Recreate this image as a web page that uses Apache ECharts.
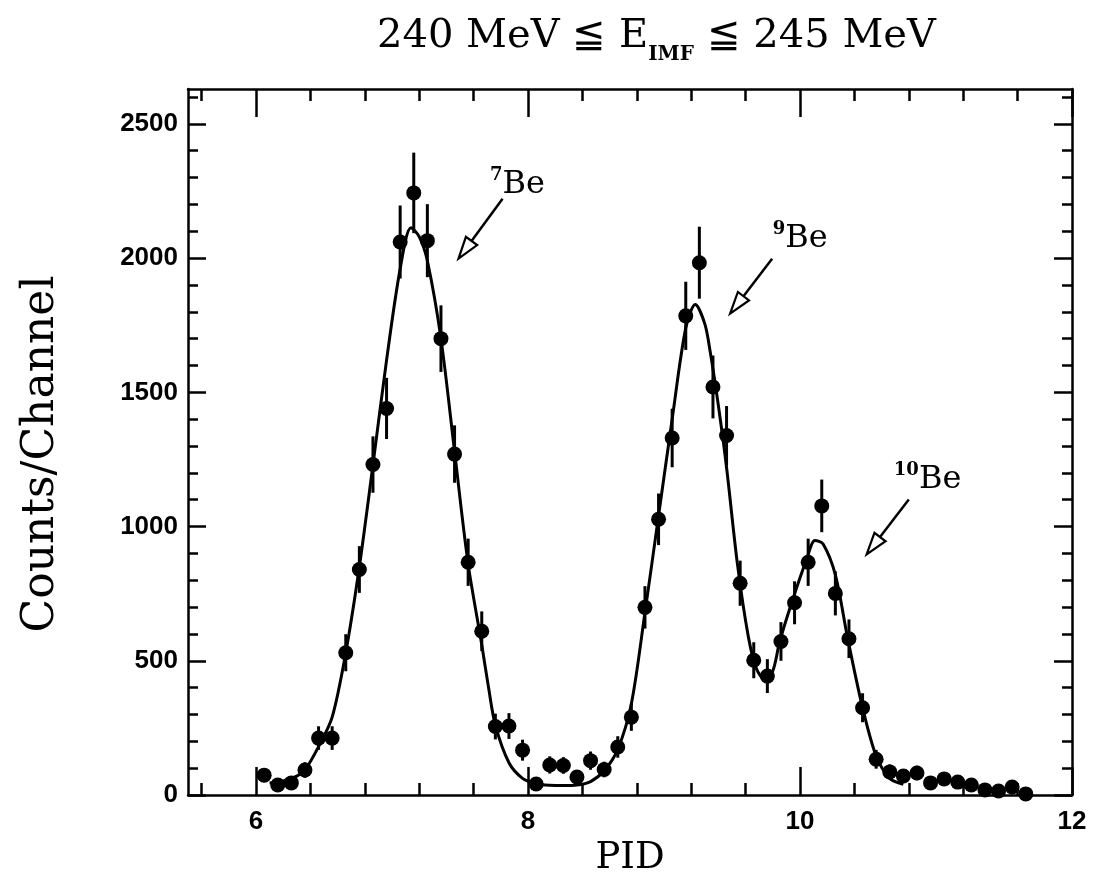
<!DOCTYPE html>
<html>
<head>
<meta charset="utf-8">
<script src="https://cdn.jsdelivr.net/npm/echarts@6/dist/echarts.min.js"></script>
<style>
html,body{margin:0;padding:0;background:#fff;}
#c{width:1097px;height:889px;}
</style>
</head>
<body>
<div id="c"></div>
<script>
// ---- data ----
const pid = [6.06,6.16,6.26,6.36,6.46,6.56,6.66,6.76,6.86,6.96,7.06,7.16,7.26,7.36,7.46,7.56,7.66,7.76,7.86,7.96,
  8.06,8.16,8.26,8.36,8.46,8.56,8.66,8.76,8.86,8.96,9.06,9.16,9.26,9.36,9.46,9.56,9.66,9.76,9.86,9.96,
  10.06,10.16,10.26,10.36,10.46,10.56,10.66,10.76,10.86,10.96,11.06,11.16,11.26,11.36,11.46,11.56,11.66];
const counts = [74,37,45,93,212,212,530,840,1231,1440,2060,2243,2065,1700,1270,867,610,255,257,167,
  41,112,110,67,128,95,179,290,699,1027,1330,1785,1983,1520,1339,789,502,443,572,716,
  867,1077,751,582,325,133,86,71,82,45,60,48,37,19,15,30,4];
const errors = [26,18,20,29,44,44,69,87,105,114,136,150,136,124,107,88,74,48,48,39,
  19,32,31,25,34,29,40,51,79,96,109,127,134,117,110,84,67,63,72,80,
  88,98,82,72,54,35,28,25,27,20,23,21,18,13,12,16,6];
const fitPid = [6.10,6.20,6.30,6.36,6.46,6.56,6.66,6.76,6.86,6.96,7.06,7.14,7.20,7.26,7.36,7.46,7.56,7.66,7.71,7.76,7.86,7.96,
  8.06,8.16,8.26,8.36,8.46,8.56,8.66,8.76,8.86,8.96,9.06,9.16,9.23,9.30,9.34,9.40,9.46,9.54,9.62,9.68,9.74,9.80,9.85,9.94,
  10.05,10.11,10.17,10.26,10.35,10.46,10.56,10.66,10.76];
const fitCounts = [45,52,70,93,180,290,530,850,1230,1620,1960,2113,2080,1990,1700,1280,860,560,400,260,120,62,
  42,36,35,37,50,90,170,340,680,1040,1400,1740,1827,1755,1650,1450,1220,860,590,470,432,462,570,718,
  880,948,935,820,585,325,145,62,40];
const xMajorTicks = [6,8,10,12];
const xMinorTicks = [5.6,6.4,6.8,7.2,7.6,8.4,8.8,9.2,9.6,10.4,10.8,11.2,11.6];
const yMajorTicks = [0,500,1000,1500,2000,2500];
const yMinorTicks = [100,200,300,400,600,700,800,900,1100,1200,1300,1400,1600,1700,1800,1900,2100,2200,2300,2400,2600];
const isotopeMass = ['7','9','10'];
const arrowTail = [[7.813,2221],[9.795,1998],[10.80,1101]];
const arrowTip = [[7.489,1998],[9.486,1793],[10.49,896]];
const labelAnchor = [[7.72,2277],[9.80,2076],[10.69,1179]];

const SERIF = '"DejaVu Serif","Liberation Serif",serif';
const SANS = '"Liberation Sans",Arial,sans-serif';

const chart = echarts.init(document.getElementById('c'));

function xAx(pos, ticks, len, main) {
  return {
    type:'value', position: pos, min:5.5, max:12, offset:0,
    axisLine:{show: main, onZero:false, lineStyle:{color:'#000', width:2.5}},
    axisTick:{show:true, inside:true, length:len, customValues:ticks, lineStyle:{color:'#000', width:2.5}},
    axisLabel:{show: main && pos==='bottom', customValues: xMajorTicks, margin:14,
      fontFamily:SANS, fontWeight:'bold', fontSize:26, color:'#000'},
    splitLine:{show:false},
    name: (main && pos==='bottom') ? 'PID' : '',
    nameLocation:'middle', nameGap:44,
    nameTextStyle:{fontFamily:SERIF, fontSize:37, color:'#000'}
  };
}
function yAx(pos, ticks, len, main) {
  return {
    type:'value', position: pos, min:0, max:2630, offset:0,
    axisLine:{show: main, onZero:false, lineStyle:{color:'#000', width:2.5}},
    axisTick:{show:true, inside:true, length:len, customValues:ticks, lineStyle:{color:'#000', width:2.5}},
    axisLabel:{show: main && pos==='left', customValues: yMajorTicks, margin:10,
      formatter:function(v){return String(v);},
      fontFamily:SANS, fontWeight:'bold', fontSize:26, color:'#000'},
    splitLine:{show:false},
    name: (main && pos==='left') ? 'Counts/Channel' : '',
    nameLocation:'middle', nameGap:124, nameRotate:90,
    nameTextStyle:{fontFamily:SERIF, fontSize:44, color:'#000', padding:[0,24,0,0]}
  };
}

const option = {
  animation:false,
  backgroundColor:'#fff',
  title:{
    text:'{a|240 MeV ≦ E}{s|IMF}{a| ≦ 245 MeV}',
    left:372, top:4,
    textStyle:{
      fontWeight:'normal',
      rich:{
        a:{fontFamily:SERIF, fontSize:40, fontWeight:'normal', color:'#000', lineHeight:56, verticalAlign:'middle'},
        s:{fontFamily:SERIF, fontSize:20, fontWeight:'bold', color:'#000', lineHeight:56, verticalAlign:'bottom'}
      }
    }
  },
  grid:{left:188, right:25, top:89, bottom:94, containLabel:false},
  xAxis:[
    xAx('bottom', xMajorTicks, 28, true),
    xAx('bottom', xMinorTicks, 12, false),
    xAx('top', xMajorTicks, 28, true),
    xAx('top', xMinorTicks, 12, false)
  ],
  yAxis:[
    yAx('left', yMajorTicks, 18, true),
    yAx('left', yMinorTicks, 10, false),
    yAx('right', yMajorTicks, 18, true),
    yAx('right', yMinorTicks, 10, false)
  ],
  series:[
    {
      type:'line', name:'fit', xAxisIndex:0, yAxisIndex:0,
      data: fitPid.map((x,i)=>[x, fitCounts[i]]),
      smooth:0.3, showSymbol:false, symbol:'none',
      lineStyle:{color:'#000', width:3}, z:2
    },
    {
      type:'custom', name:'errors', xAxisIndex:0, yAxisIndex:0, clip:true,
      data: pid.map((x,i)=>[x, counts[i], errors[i]]),
      renderItem:function(params, api){
        const x=api.value(0), y=api.value(1), e=api.value(2);
        const p1=api.coord([x, Math.max(0,y-e)]), p2=api.coord([x, y+e]);
        return {type:'line', shape:{x1:p1[0],y1:p1[1],x2:p2[0],y2:p2[1]},
          style:{stroke:'#000', lineWidth:3}};
      }, z:3
    },
    {
      type:'scatter', name:'data', xAxisIndex:0, yAxisIndex:0,
      data: pid.map((x,i)=>[x, counts[i]]),
      symbol:'circle', symbolSize:15, itemStyle:{color:'#000', opacity:1}, z:4
    },
    {
      type:'custom', name:'arrows', xAxisIndex:0, yAxisIndex:0,
      data: arrowTail.map((t,i)=>[t[0],t[1],arrowTip[i][0],arrowTip[i][1]]),
      renderItem:function(params, api){
        const a=api.coord([api.value(0),api.value(1)]);
        const b=api.coord([api.value(2),api.value(3)]);
        const dx=b[0]-a[0], dy=b[1]-a[1], L=Math.sqrt(dx*dx+dy*dy);
        const ux=dx/L, uy=dy/L, hl=22, hw=7;
        const bx=b[0]-ux*hl, by=b[1]-uy*hl;
        return {type:'group', children:[
          {type:'line', shape:{x1:a[0],y1:a[1],x2:bx,y2:by}, style:{stroke:'#000', lineWidth:2.5}},
          {type:'polygon', shape:{points:[[b[0],b[1]],[bx-uy*hw,by+ux*hw],[bx+uy*hw,by-ux*hw]]},
            style:{fill:'#fff', stroke:'#000', lineWidth:2.2}}
        ]};
      }, z:5
    },
    {
      type:'custom', name:'labels', xAxisIndex:0, yAxisIndex:0,
      data: labelAnchor.map((p,i)=>[p[0],p[1],i]),
      renderItem:function(params, api){
        const p=api.coord([api.value(0),api.value(1)]);
        const m=isotopeMass[api.value(2)];
        return {type:'text', x:p[0], y:p[1], style:{
          text:'{s|'+m+'}{b|Be}', align:'left', verticalAlign:'middle',
          rich:{
            s:{fontFamily:SERIF, fontSize:18, fontWeight:'bold', fill:'#000', lineHeight:34, verticalAlign:'top'},
            b:{fontFamily:SERIF, fontSize:32, fill:'#000', lineHeight:34, verticalAlign:'bottom'}
          }
        }};
      }, z:6
    }
  ]
};
chart.setOption(option);
</script>
</body>
</html>
